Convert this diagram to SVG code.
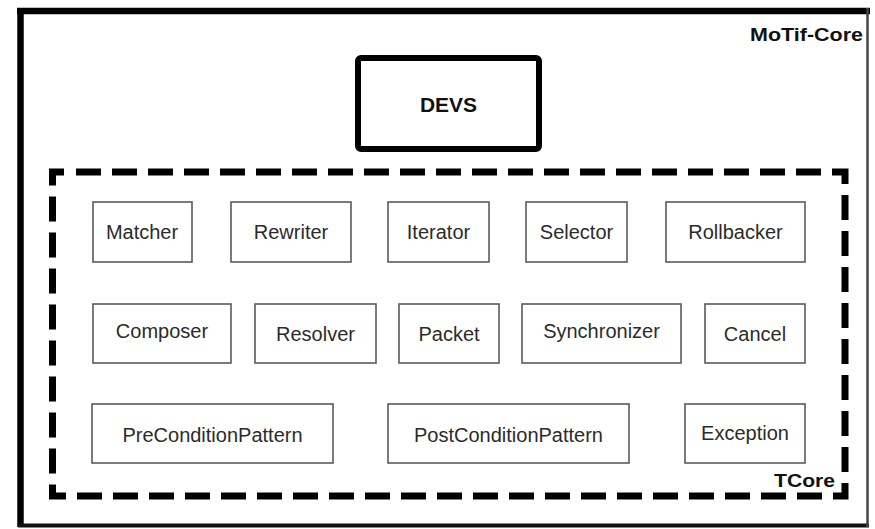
<svg xmlns="http://www.w3.org/2000/svg" width="875" height="529" viewBox="0 0 875 529">
<style>
.box{fill:#fff;stroke:#5a5a5a;stroke-width:1.6}
.lbl{font-family:"Liberation Sans",Arial,sans-serif;font-size:20px;fill:#2b2b2b;text-anchor:middle}
.title{font-family:"Liberation Sans",Arial,sans-serif;font-weight:bold;fill:#111}
</style>
<rect width="875" height="529" fill="#fff"/>
<g id="motif-core">
<line x1="17" y1="11" x2="870" y2="11" stroke="#000" stroke-width="6.5"/>
<line x1="20.5" y1="8" x2="20.5" y2="527" stroke="#000" stroke-width="6.5"/>
<line x1="18" y1="525.5" x2="869" y2="525.5" stroke="#111" stroke-width="4"/>
<line x1="867.5" y1="8" x2="867.5" y2="527" stroke="#444" stroke-width="2.5"/>
<text class="title" x="750" y="41" font-size="19" textLength="113" lengthAdjust="spacingAndGlyphs">MoTif-Core</text>
</g>
<g id="devs">
<rect x="358" y="58" width="181" height="91" rx="3" fill="#fff" stroke="#000" stroke-width="6"/>
<text class="title" x="420" y="112" font-size="20" textLength="57" lengthAdjust="spacingAndGlyphs">DEVS</text>
</g>
<g id="tcore">
<path d="M65 172 H845 V496 H52.5 V172 Z" fill="none" stroke="#000" stroke-width="7" stroke-dasharray="25 11" stroke-dashoffset="25" stroke-linejoin="miter"/>
<text class="title" x="774" y="487" font-size="19" textLength="61" lengthAdjust="spacingAndGlyphs">TCore</text>
</g>
<g id="matcher"><rect class="box" x="93" y="202" width="99" height="60"/><text class="lbl" x="142" y="239">Matcher</text></g>
<g id="rewriter"><rect class="box" x="231" y="202" width="120" height="60"/><text class="lbl" x="291" y="239">Rewriter</text></g>
<g id="iterator"><rect class="box" x="388" y="202" width="101" height="60"/><text class="lbl" x="438.5" y="239">Iterator</text></g>
<g id="selector"><rect class="box" x="526" y="202" width="101" height="60"/><text class="lbl" x="576.5" y="239">Selector</text></g>
<g id="rollbacker"><rect class="box" x="666" y="202" width="139" height="60"/><text class="lbl" x="735.5" y="239">Rollbacker</text></g>
<g id="composer"><rect class="box" x="93" y="304" width="138" height="59"/><text class="lbl" x="162" y="338">Composer</text></g>
<g id="resolver"><rect class="box" x="255" y="304" width="121" height="59"/><text class="lbl" x="315.5" y="341">Resolver</text></g>
<g id="packet"><rect class="box" x="399" y="304" width="100" height="59"/><text class="lbl" x="449" y="341">Packet</text></g>
<g id="synchronizer"><rect class="box" x="522" y="304" width="159" height="59"/><text class="lbl" x="601.5" y="338">Synchronizer</text></g>
<g id="cancel"><rect class="box" x="705" y="304" width="100" height="59"/><text class="lbl" x="755" y="341">Cancel</text></g>
<g id="preconditionpattern"><rect class="box" x="92" y="404" width="241" height="59"/><text class="lbl" x="212.5" y="442">PreConditionPattern</text></g>
<g id="postconditionpattern"><rect class="box" x="388" y="404" width="241" height="59"/><text class="lbl" x="508.5" y="442">PostConditionPattern</text></g>
<g id="exception"><rect class="box" x="685" y="404" width="120" height="59"/><text class="lbl" x="745" y="440">Exception</text></g>
<g id="connectors"></g>
</svg>
